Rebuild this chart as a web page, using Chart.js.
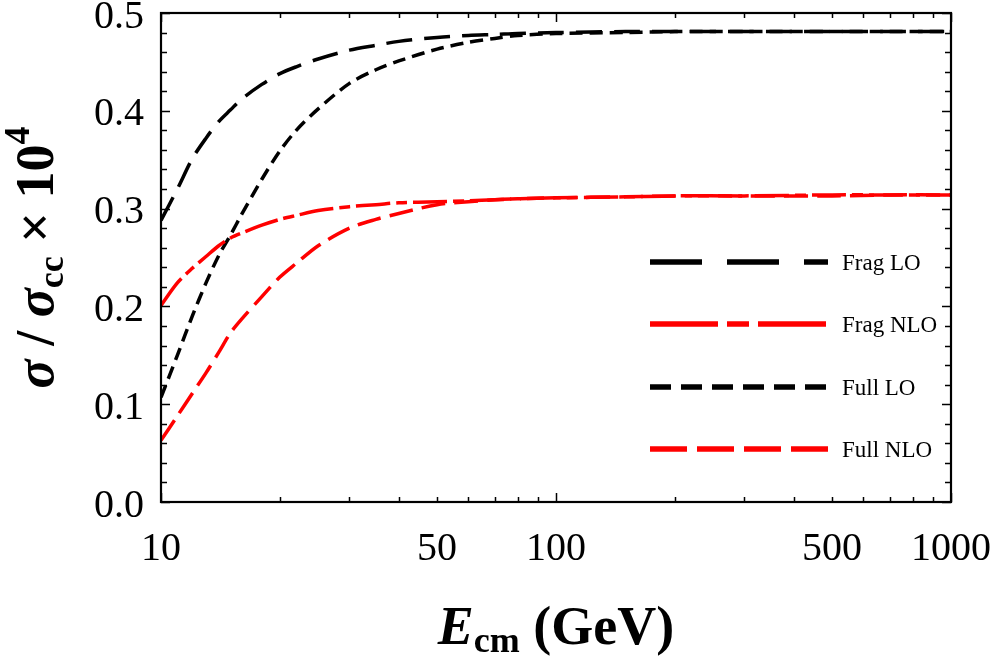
<!DOCTYPE html>
<html>
<head>
<meta charset="utf-8">
<script src="https://cdn.jsdelivr.net/npm/chart.js@4.4.1/dist/chart.umd.min.js"></script>
<style>
  html, body { margin: 0; padding: 0; background: #fff; }
  #wrap { width: 996px; height: 661px; }
</style>
</head>
<body>
<div id="wrap"><canvas id="chart"></canvas></div>
<script>
const energies = [10, 11, 12, 13, 14, 15, 16, 18, 20, 22, 25, 30, 35, 40, 50, 60, 70, 80, 100, 150, 200, 300, 500, 700, 1000];

const fragLO  = [0.288, 0.320, 0.351, 0.372, 0.389, 0.401, 0.412, 0.427, 0.438, 0.445, 0.453, 0.462, 0.467, 0.471, 0.475, 0.477, 0.478, 0.479, 0.480, 0.481, 0.481, 0.481, 0.481, 0.481, 0.481];
const fragNLO = [0.201, 0.224, 0.239, 0.251, 0.262, 0.270, 0.275, 0.283, 0.289, 0.293, 0.298, 0.302, 0.304, 0.306, 0.307, 0.308, 0.309, 0.310, 0.311, 0.312, 0.313, 0.313, 0.314, 0.314, 0.314];
const fullLO  = [0.107, 0.150, 0.190, 0.224, 0.252, 0.273, 0.294, 0.330, 0.359, 0.380, 0.402, 0.428, 0.442, 0.451, 0.463, 0.470, 0.474, 0.477, 0.479, 0.480, 0.481, 0.481, 0.481, 0.481, 0.481];
const fullNLO = [0.063, 0.088, 0.111, 0.132, 0.153, 0.173, 0.187, 0.210, 0.230, 0.244, 0.262, 0.280, 0.289, 0.295, 0.304, 0.307, 0.309, 0.310, 0.311, 0.312, 0.313, 0.313, 0.313, 0.314, 0.314];

const seriesNames = ["Frag LO", "Frag NLO", "Full LO", "Full NLO"];
const xTickLabels = [10, 50, 100, 500, 1000];
const xMinorTicks = [20, 30, 40, 50, 60, 70, 80, 90, 200, 300, 400, 500, 600, 700, 800, 900];
const xMajorTicks = [10, 100, 1000];

const SERIF = "'Liberation Serif', 'Times New Roman', serif";

// line styles: plot dash, legend dash
const styles = [
  { color: "#000000", dash: [26, 12], legendDash: [52, 25] },
  { color: "#ff0000", dash: [34, 6, 11, 6], legendDash: [68, 9, 22, 9] },
  { color: "#000000", dash: [13, 7], legendDash: [21, 10] },
  { color: "#ff0000", dash: [24, 9], legendDash: [37, 10] },
];

function toPoints(vals) {
  return energies.map((e, i) => ({ x: e, y: vals[i] }));
}

const allSeries = [fragLO, fragNLO, fullLO, fullNLO];

const datasets = allSeries.map((vals, i) => ({
  label: seriesNames[i],
  data: toPoints(vals),
  borderColor: styles[i].color,
  borderDash: styles[i].dash,
  borderWidth: 3.5,
  pointRadius: 0,
  tension: 0.3,
  fill: false,
}));

// frame with inward ticks on all four sides
const framePlugin = {
  id: "frame",
  afterDatasetsDraw(chart) {
    const { ctx, chartArea: a, scales } = chart;
    ctx.save();
    ctx.strokeStyle = "#000";
    ctx.setLineDash([]);
    ctx.lineWidth = 1.5;
    ctx.beginPath();
    const xt = (v, len) => {
      const px = Math.round(scales.x.getPixelForValue(v)) + 0.5;
      ctx.moveTo(px, a.bottom); ctx.lineTo(px, a.bottom - len);
      ctx.moveTo(px, a.top); ctx.lineTo(px, a.top + len);
    };
    xMinorTicks.forEach(v => xt(v, 5));
    xMajorTicks.forEach(v => xt(v, 9));
    for (let k = 0; k <= 25; k++) {
      const v = k * 0.02;
      const len = k % 5 === 0 ? 9 : 6;
      const py = Math.round(scales.y.getPixelForValue(v)) + 0.5;
      ctx.moveTo(a.left, py); ctx.lineTo(a.left + len, py);
      ctx.moveTo(a.right, py); ctx.lineTo(a.right - len, py);
    }
    ctx.stroke();
    ctx.lineWidth = 2.2;
    ctx.strokeRect(a.left, a.top, a.right - a.left, a.bottom - a.top);
    ctx.restore();
  }
};

// legend drawn inside the plot, lower right
const legendPlugin = {
  id: "innerLegend",
  afterDraw(chart) {
    const { ctx } = chart;
    const rows = [262, 324, 387, 449];
    ctx.save();
    chart.data.datasets.forEach((ds, i) => {
      const y = rows[i];
      ctx.strokeStyle = styles[i].color;
      ctx.lineWidth = 5.5;
      ctx.setLineDash(styles[i].legendDash);
      ctx.beginPath();
      ctx.moveTo(650, y);
      ctx.lineTo(828, y);
      ctx.stroke();
      ctx.setLineDash([]);
      ctx.fillStyle = "#000";
      ctx.font = "23px " + SERIF;
      ctx.textBaseline = "middle";
      ctx.textAlign = "left";
      ctx.fillText(ds.label, 842, y + 2);
    });
    ctx.restore();
  }
};

// draw a list of [text, font, baselineShift] pieces starting at x
function drawRuns(ctx, runs, x, y) {
  runs.forEach(r => {
    ctx.font = r[1];
    ctx.fillText(r[0], x, y + r[2]);
    x += ctx.measureText(r[0]).width;
  });
}
function runsWidth(ctx, runs) {
  let w = 0;
  runs.forEach(r => { ctx.font = r[1]; w += ctx.measureText(r[0]).width; });
  return w;
}

const titlePlugin = {
  id: "titles",
  afterDraw(chart) {
    const { ctx, chartArea: a } = chart;
    const big = "bold 54px " + SERIF;
    const bigIt = "italic bold 54px " + SERIF;
    const small = "bold 36px " + SERIF;
    ctx.save();
    ctx.fillStyle = "#000";
    ctx.textBaseline = "alphabetic";
    ctx.textAlign = "left";

    const xRuns = [["E", bigIt, 0], ["cm", small, 8], [" (GeV)", big, 0]];
    const xw = runsWidth(ctx, xRuns);
    drawRuns(ctx, xRuns, (a.left + a.right) / 2 - xw / 2, 644);

    const yRuns = [["σ", bigIt, 0], [" / ", big, 0], ["σ", bigIt, 0], ["cc", small, 10],
                   [" × 10", big, 0], ["4", small, -24]];
    const yw = runsWidth(ctx, yRuns);
    ctx.translate(53, (a.top + a.bottom) / 2);
    ctx.rotate(-Math.PI / 2);
    drawRuns(ctx, yRuns, -yw / 2, 0);
    ctx.restore();
  }
};

new Chart(document.getElementById("chart"), {
  type: "line",
  data: { datasets },
  options: {
    responsive: true,
    maintainAspectRatio: false,
    animation: false,
    layout: { padding: { left: 0, right: 45, top: 13, bottom: 0 } },
    scales: {
      x: {
        type: "logarithmic",
        min: 10,
        max: 1000,
        grid: { display: false, drawTicks: false },
        border: { display: false },
        afterBuildTicks: (scale) => {
          scale.ticks = xTickLabels.map(v => ({ value: v }));
        },
        afterFit: (scale) => {
          scale.height = 159;
          scale.paddingLeft = 0;
          scale.paddingRight = 0;
        },
        ticks: {
          autoSkip: false,
          maxRotation: 0,
          padding: 23,
          color: "#000",
          font: { family: SERIF, size: 40 },
          callback: (value) => String(value),
        },
      },
      y: {
        min: 0,
        max: 0.5,
        grid: { display: false, drawTicks: false },
        border: { display: false },
        afterFit: (scale) => {
          scale.width = 161;
          scale.paddingTop = 0;
          scale.paddingBottom = 0;
        },
        ticks: {
          stepSize: 0.1,
          padding: 17,
          labelOffset: 4,
          color: "#000",
          font: { family: SERIF, size: 40 },
          callback: (value) => value.toFixed(1),
        },
      },
    },
    plugins: {
      legend: { display: false },
      tooltip: { enabled: false },
    },
  },
  plugins: [framePlugin, legendPlugin, titlePlugin],
});
</script>
</body>
</html>
